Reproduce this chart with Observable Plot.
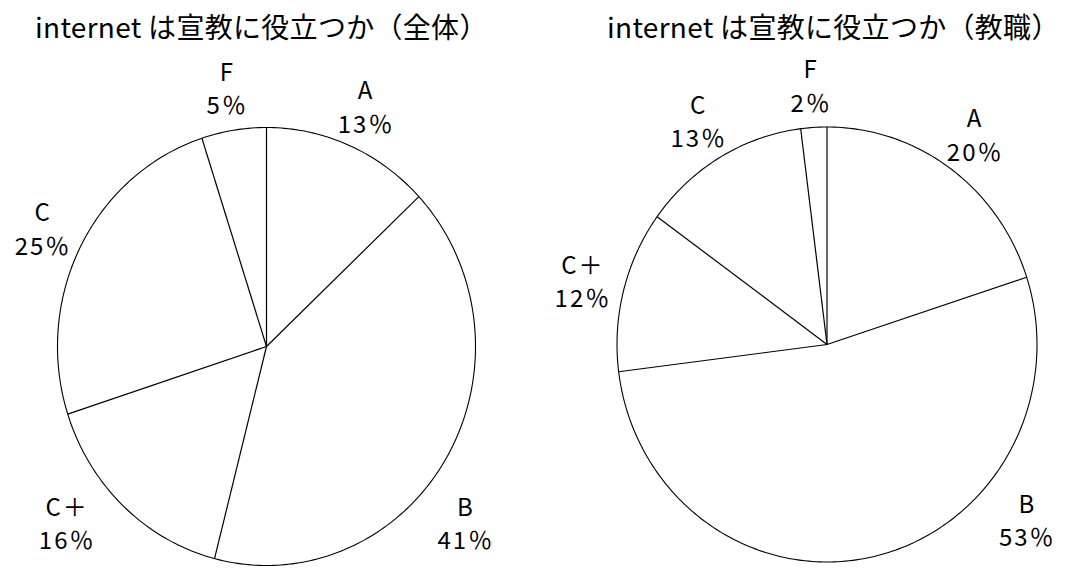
<!DOCTYPE html>
<html><head><meta charset="utf-8">
<script src="https://cdn.jsdelivr.net/npm/d3@7"></script>
<script src="https://cdn.jsdelivr.net/npm/@observablehq/plot@0.6"></script>
<style>
body{margin:0;background:#fff;}
#wrap{position:relative;width:1071px;height:572px;overflow:hidden;background:#fff;}
.title{position:absolute;top:6px;font-family:"Noto Sans CJK JP";font-size:28px;letter-spacing:0.3px;line-height:40px;white-space:nowrap;color:#000;}
.panel{position:absolute;top:50px;}
</style></head><body>
<div id="wrap"></div>
<script>
// ---- data ----
const grades = ["A", "B", "C＋", "C", "F"];
const totalShares = [13, 41, 16, 25, 5];      // 全体
const clergyShares = [20, 53, 12, 13, 2];     // 教職
const titles = ["internet は宣教に役立つか（全体）", "internet は宣教に役立つか（教職）"];

const wrap = document.getElementById("wrap");

function piePlot(values, layout) {
  const total = d3.sum(values);
  const ends = d3.cumsum(values);
  const slices = grades.map((g, i) => ({
    grade: g, value: values[i],
    start: (ends[i] - values[i]) / total, end: ends[i] / total
  }));
  const ang = f => 2 * Math.PI * f; // clockwise from 12 o'clock
  const radii = [{f: 0}, ...slices.slice(0, -1).map(s => ({f: s.end}))];
  const outline = d3.range(0, 361, 1).map(d => ({t: d / 360}));
  // labels: slice midpoint; labels in the lower half move to the lower corners
  const labels = slices.map(s => {
    let a = (s.start + s.end) / 2 * 360;
    let r = 1.2;
    if (a > 90 && a < 180) { a = 130; r = 1.245; }
    else if (a >= 180 && a < 270) { a = 230; r = 1.245; }
    const t = a / 360;
    return {...s, lx: r * Math.sin(ang(t)), ly: r * Math.cos(ang(t))};
  });
  return Plot.plot({
    width: layout.width, height: 522,
    marginLeft: layout.cx - layout.rx, marginRight: layout.width - layout.cx - layout.rx,
    marginTop: layout.cy - layout.ry, marginBottom: 522 - layout.cy - layout.ry,
    x: {domain: [-1, 1], axis: null},
    y: {domain: [-1, 1], axis: null},
    style: {fontFamily: "Noto Sans CJK JP", letterSpacing: "2px", color: "#000", background: "transparent", overflow: "visible"},
    marks: [
      Plot.line(outline, {x: d => Math.sin(ang(d.t)), y: d => Math.cos(ang(d.t)), stroke: "#000", strokeWidth: 1.1}),
      Plot.link(radii, {x1: 0, y1: 0, x2: d => Math.sin(ang(d.f)), y2: d => Math.cos(ang(d.f)), stroke: "#000", strokeWidth: 1.2}),
      Plot.text(labels, {x: "lx", y: "ly", text: d => `${d.grade}\n${d.value}％`, fontSize: 24, lineHeight: 1.4, fill: "#000"})
    ]
  });
}

const layouts = [
  {left: 0, width: 535, cx: 266, cy: 296, rx: 209, ry: 219, titleLeft: 35},
  {left: 535, width: 536, cx: 291.5, cy: 294, rx: 210, ry: 217.5, titleLeft: 607}
];
[totalShares, clergyShares].forEach((vals, i) => {
  const L = layouts[i];
  const t = document.createElement("div");
  t.className = "title"; t.style.left = L.titleLeft + "px"; t.textContent = titles[i];
  wrap.appendChild(t);
  const p = document.createElement("div");
  p.className = "panel"; p.style.left = L.left + "px";
  p.appendChild(piePlot(vals, L));
  wrap.appendChild(p);
});
</script>
</body></html>
